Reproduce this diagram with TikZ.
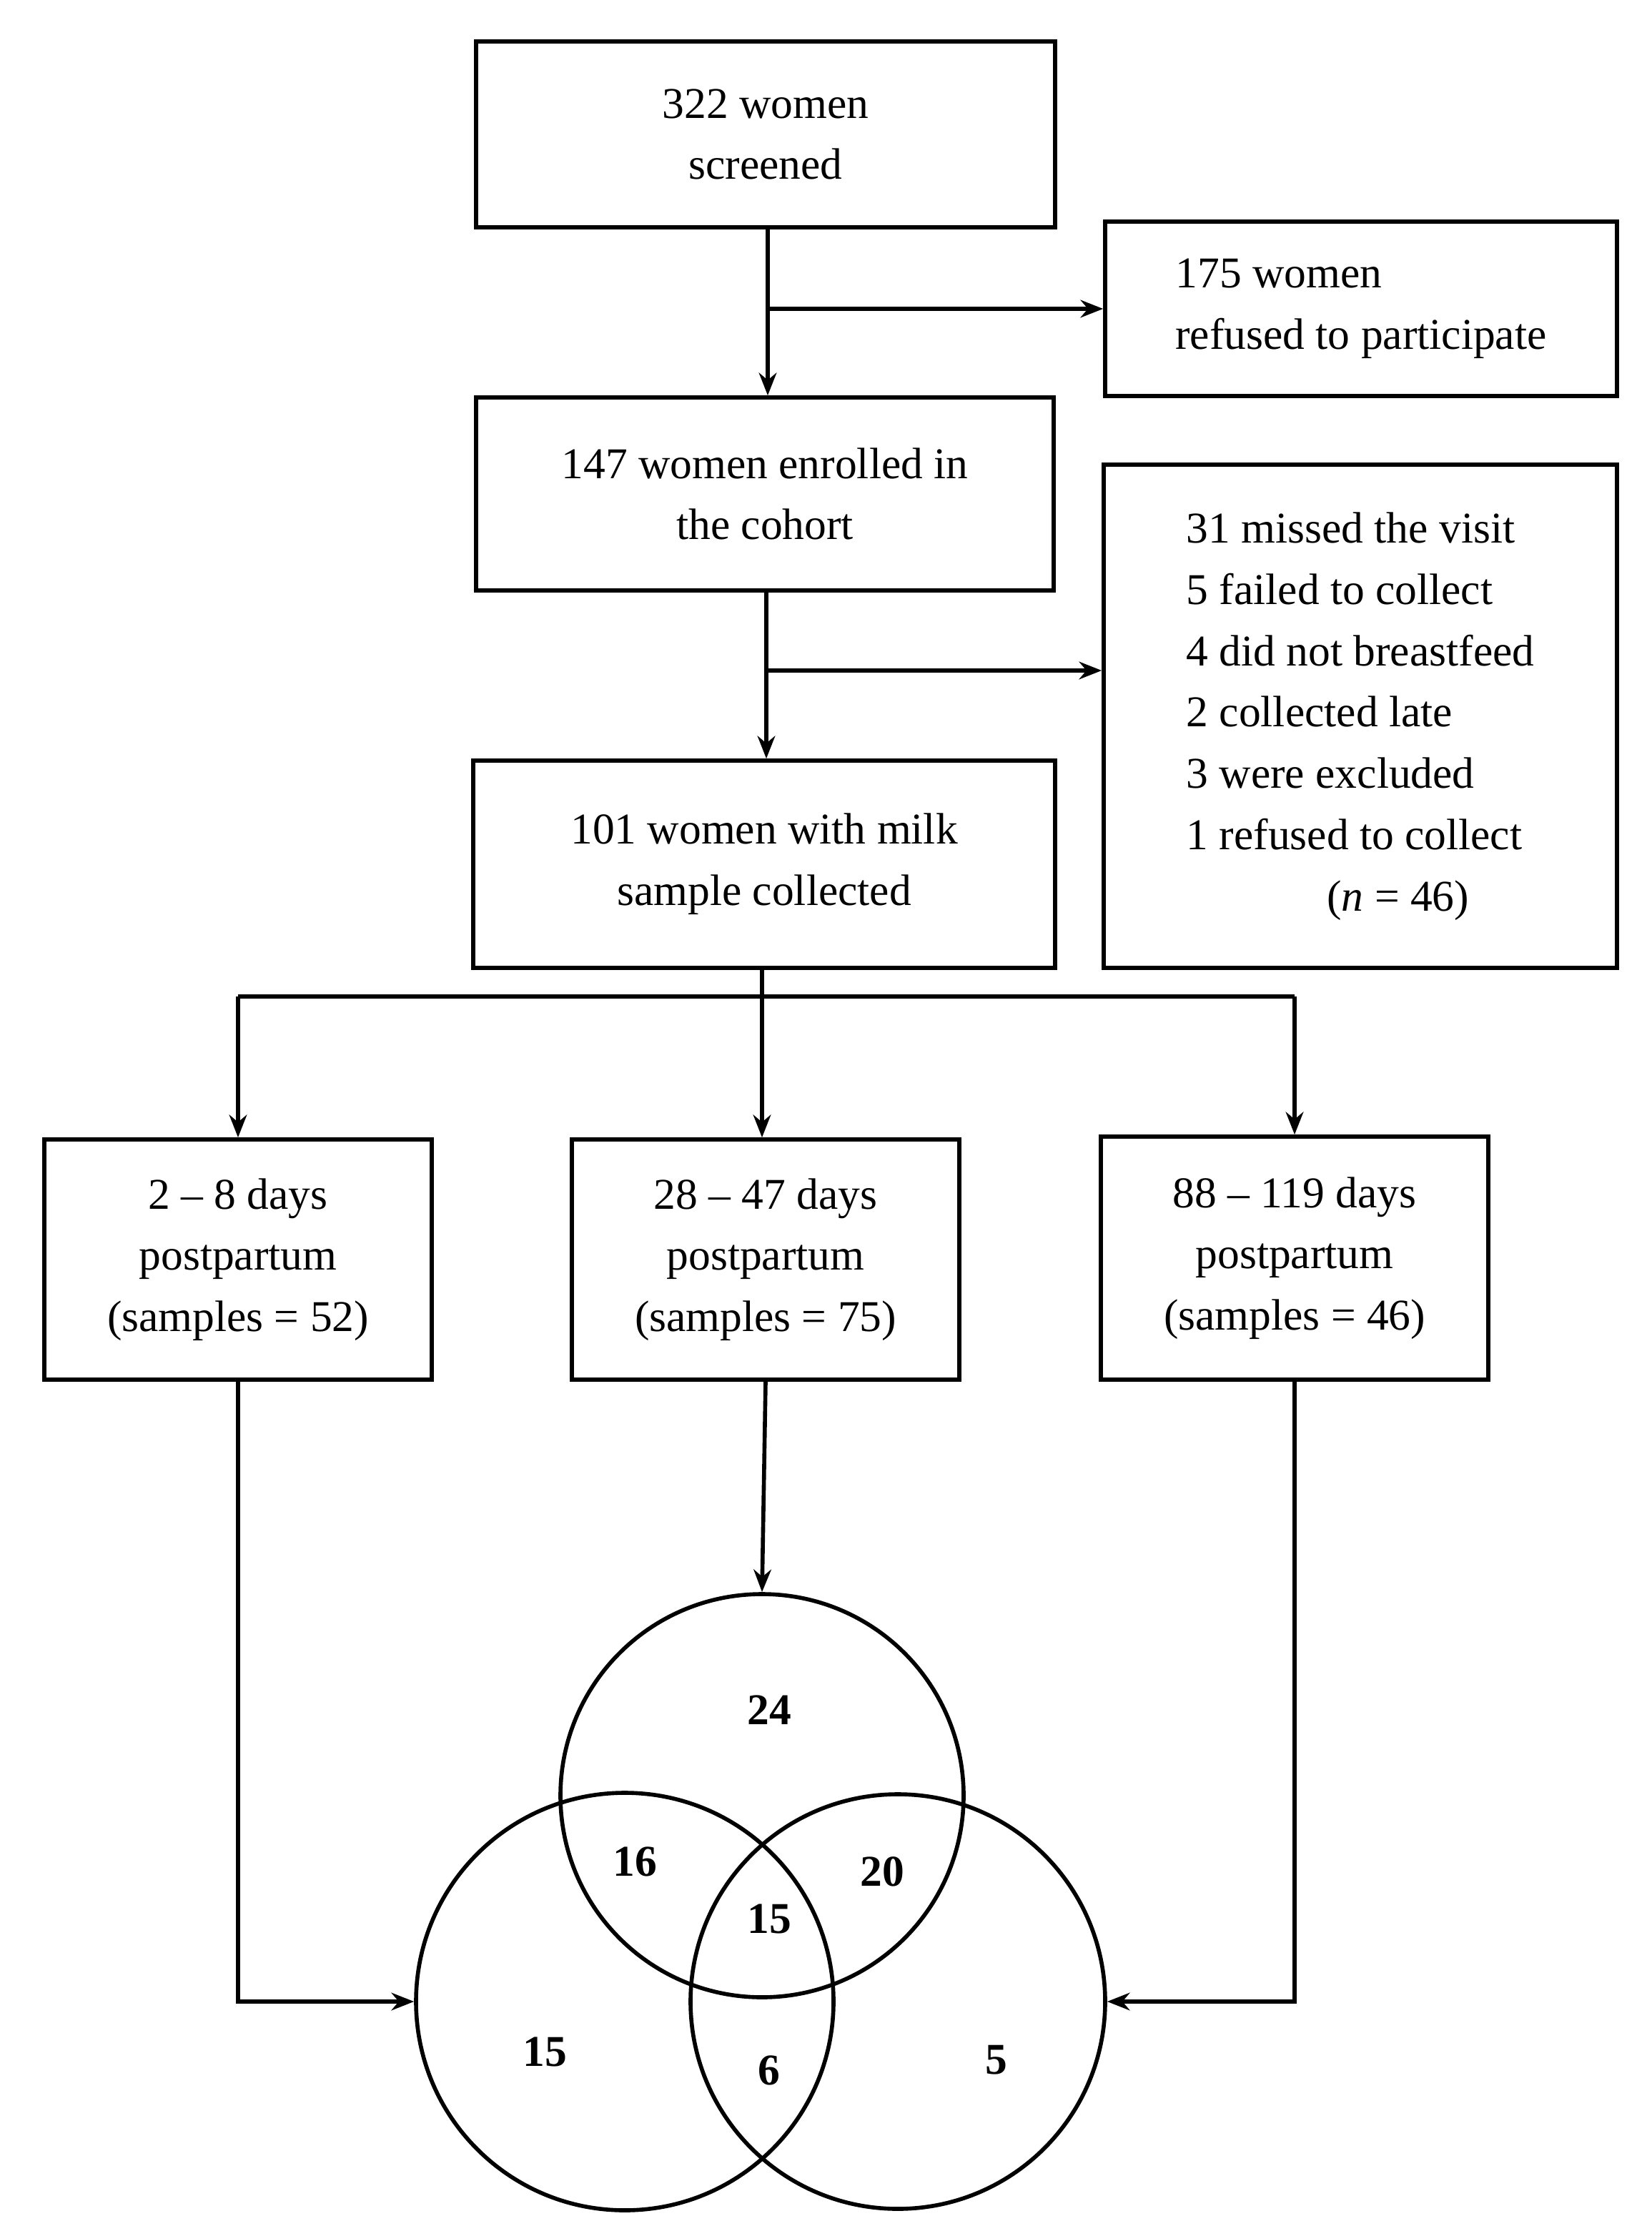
\documentclass[tikz,border=0pt]{standalone}
\usepackage{fontspec}
\setmainfont{Liberation Serif}
\usetikzlibrary{arrows.meta}
\tikzset{
  box/.style={draw, line width=1.6pt, align=center, inner sep=0pt},
  flow/.style={line width=1.6pt, -{Stealth[length=9pt,width=7pt]}},
  ring/.style={draw, line width=1.6pt, circle, inner sep=0pt},
  count/.style={font=\fontsize{17.5}{21}\selectfont\bfseries}
}
\begin{document}
\begin{tikzpicture}[x=0.02cm, y=-0.02cm, font=\fontsize{17.5}{24.4}\selectfont]
  \useasboundingbox (0,0) rectangle (1155,1550);

  % --- flow boxes ---
  \node[box, minimum width=405*0.02cm, minimum height=130*0.02cm] (screened) at (535.5,94) {322 women\\screened};
  \node[box, minimum width=358*0.02cm, minimum height=122*0.02cm, align=left] (refused) at (952,216) {175 women\\refused to participate};
  \node[box, minimum width=404*0.02cm, minimum height=135*0.02cm] (enrolled) at (535,345.5) {147 women enrolled in\\the cohort};
  \node[box, minimum width=359*0.02cm, minimum height=352*0.02cm, align=left] (missed) at (951.5,501)
    {31 missed the visit\\5 failed to collect\\4 did not breastfeed\\2 collected late\\3 were excluded\\1 refused to collect\\\hspace*{3.2em}(\textit{n} = 46)};
  \node[box, minimum width=407*0.02cm, minimum height=145*0.02cm] (collected) at (534.5,604.5) {101 women with milk\\sample collected};

  % --- time points ---
  \node[box, minimum width=271*0.02cm, minimum height=168*0.02cm] (early) at (166.5,881) {2 -- 8 days\\postpartum\\(samples = 52)};
  \node[box, minimum width=271*0.02cm, minimum height=168*0.02cm] (mid) at (535.5,881) {28 -- 47 days\\postpartum\\(samples = 75)};
  \node[box, minimum width=271*0.02cm, minimum height=170*0.02cm] (late) at (905.5,880) {88 -- 119 days\\postpartum\\(samples = 46)};

  % --- venn ---
  \node[ring, minimum size=282*0.02cm] (vmid) at (533,1256) {};
  \node[ring, minimum size=292*0.02cm] (vearly) at (437,1400) {};
  \node[ring, minimum size=290*0.02cm] (vlate) at (628,1400) {};
  \node[count] (n24) at (538,1196) {24};
  \node[count] (n16) at (444,1302) {16};
  \node[count] (n20) at (617,1309) {20};
  \node[count] (n15c) at (538,1342) {15};
  \node[count] (n15) at (381,1435) {15};
  \node[count] (n6) at (538,1448) {6};
  \node[count] (n5) at (697,1441) {5};

  % --- connectors ---
  \coordinate (s1) at (537,216);
  \coordinate (s2) at (536,469);
  \coordinate (split) at (533,697);
  \draw[flow] (screened.south -| s1) -- (enrolled.north -| s1);
  \draw[flow] (s1) -- (refused.west |- s1);
  \draw[flow] (enrolled.south -| s2) -- (collected.north -| s2);
  \draw[flow] (s2) -- (missed.west |- s2);
  \draw[line width=1.6pt] (collected.south -| split) -- (split);
  \draw[line width=1.6pt] (early.north |- split) -- (late.north |- split);
  \draw[flow] (early.north |- split) -- (early.north);
  \draw[flow] (split) -- (mid.north -| split);
  \draw[flow] (late.north |- split) -- (late.north);
  \draw[flow] (early.south) |- (vearly.west);
  \draw[flow] (mid.south) -- (vmid.north);
  \draw[flow] (late.south) |- (vlate.east);
\end{tikzpicture}
\end{document}
